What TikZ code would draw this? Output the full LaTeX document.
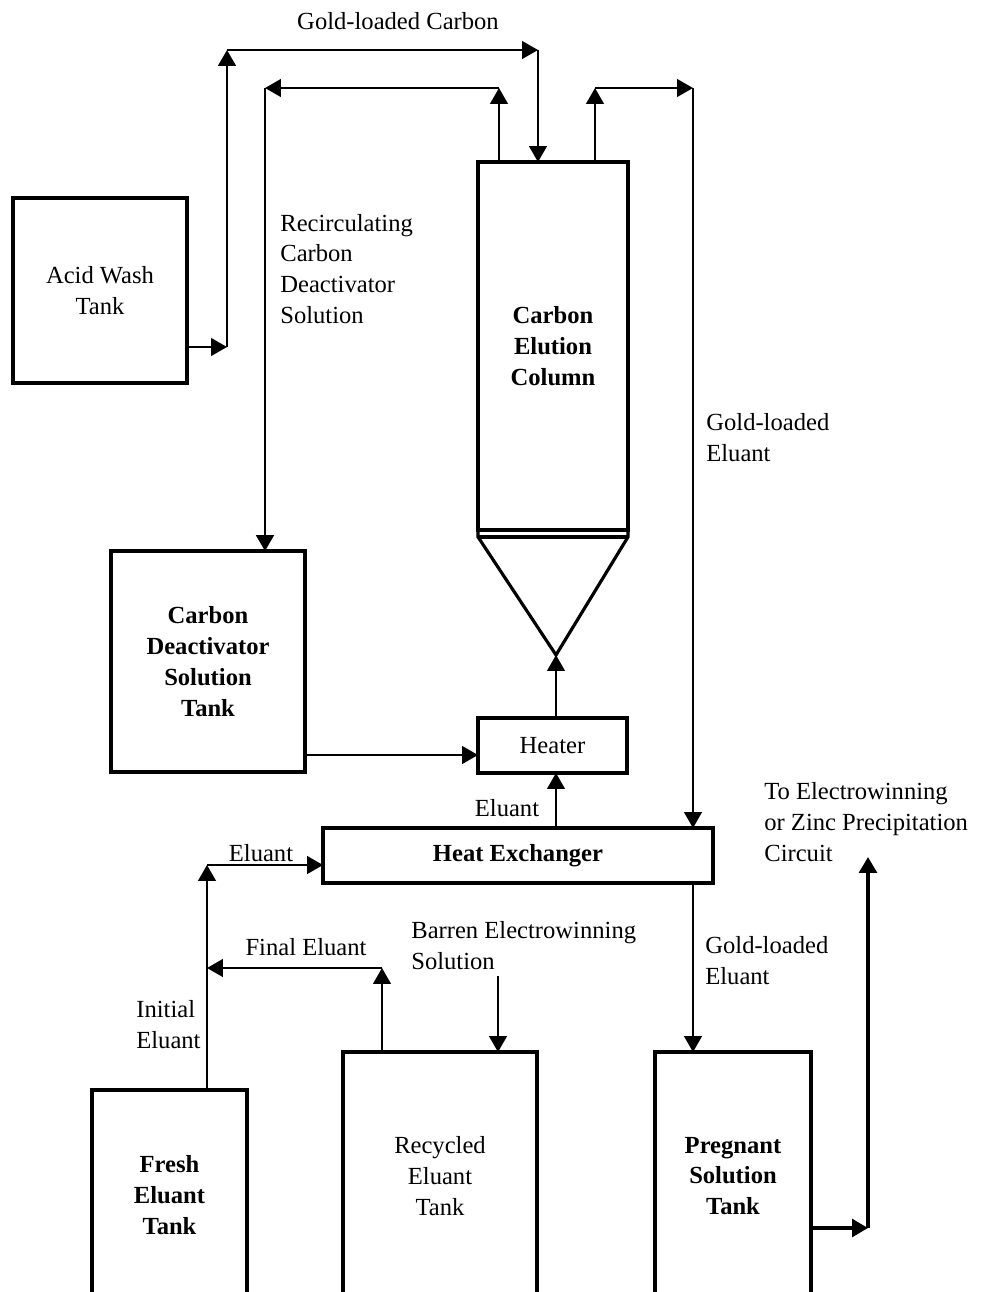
\documentclass[tikz,border=0pt]{standalone}
\usepackage{fontspec}
\setmainfont{Liberation Serif}
\usetikzlibrary{arrows.meta}
\tikzstyle{tank}=[draw, line width=1.8pt, outer sep=0pt, inner sep=0pt, align=center, font=\fontsize{14}{17.6}\selectfont]
\tikzstyle{boldtank}=[tank, font=\fontsize{14}{17.6}\selectfont\bfseries]
\tikzstyle{flow}=[-{Triangle[length=9pt,width=10pt]}, line width=1.2pt]
\tikzstyle{flowtext}=[inner sep=0pt, align=left, font=\fontsize{14}{17.6}\selectfont]

\begin{document}
\begin{tikzpicture}[x=0.02cm, y=-0.02cm]
\useasboundingbox (0,0) rectangle (981,1292);
\clip (0,0) rectangle (981,1292);

\node[tank, minimum width=3.48cm, minimum height=3.7cm] at (100, 290.5) (acid) {Acid Wash\\Tank};
\node[boldtank, minimum width=3.88cm, minimum height=4.42cm] at (208, 661.5) (deact) {Carbon\\Deactivator\\Solution\\Tank};
\node[boldtank, minimum width=3cm, minimum height=7.36cm] at (553, 346) (column) {Carbon\\Elution\\Column};
\node[tank, minimum width=2.98cm, minimum height=1.1cm] at (552.5, 745.5) (heater) {Heater};
\node[boldtank, minimum width=7.8cm, minimum height=1.1cm] at (518, 855.5) (hx) {Heat Exchanger};
\node[boldtank, minimum width=3.1cm, minimum height=4.2cm] at (169.5, 1195) (fresh) {Fresh\\Eluant\\Tank};
\node[tank, minimum width=3.88cm, minimum height=4.96cm] at (440, 1176) (recycled) {Recycled\\Eluant\\Tank};
\node[boldtank, minimum width=3.12cm, minimum height=4.96cm] at (733, 1176) (pregnant) {Pregnant\\Solution\\Tank};

% cone under the column
\coordinate (apex) at (556, 655);
\draw[line width=1.8pt] (column.south west) -- ++(0, 7) coordinate (bandl) -- (apex) -- (column.south east |- bandl) -- (column.south east);
\draw[line width=1.8pt] (bandl) -- (column.south east |- bandl);

% gold-loaded carbon
\coordinate (aw) at (227, 347);
\coordinate (awtop) at (227, 50);
\coordinate (gc) at (538, 50);
\draw[flow] (acid.east |- aw) -- (aw);
\draw[flow, line width=1.5pt] (aw) -- (awtop);
\draw[flow] (awtop) -- (gc);
\draw[flow] (gc) -- (gc |- column.north);

% recirculating solution
\coordinate (rc) at (499, 88);
\coordinate (rcl) at (265, 88);
\draw[flow] (column.north -| rc) -- (rc);
\draw[flow] (rc) -- (rcl);
\draw[flow, line width=1.5pt] (rcl) -- (rcl |- deact.north);

% gold-loaded eluant
\coordinate (ge) at (595, 88);
\coordinate (ger) at (693, 88);
\draw[flow] (column.north -| ge) -- (ge);
\draw[flow] (ge) -- (ger);
\draw[flow] (ger) -- (ger |- hx.north);
\draw[flow] (hx.south -| ger) -- (pregnant.north -| ger);

% heater
\coordinate (dh) at (305, 755);
\draw[flow] (heater.north -| apex) -- (apex);
\draw[flow] (hx.north -| apex) -- (heater.south -| apex);
\draw[flow] (deact.east |- dh) -- (heater.west |- dh);

% eluant feed
\coordinate (fe) at (207, 865);
\coordinate (fl) at (207, 968);
\coordinate (fr) at (382, 968);
\coordinate (bs) at (498, 976);
\draw[flow] (fresh.north -| fe) -- (fe);
\draw[flow] (fe) -- (hx.west |- fe);
\draw[flow] (recycled.north -| fr) -- (fr);
\draw[flow] (fr) -- (fl);
\draw[flow] (bs) -- (recycled.north -| bs);

% to electrowinning
\coordinate (pe) at (868, 1228);
\coordinate (pt) at (868, 857);
\draw[flow, line width=2pt] (pregnant.east |- pe) -- (pe);
\draw[flow, line width=2pt] (pe) -- (pt);

\node[flowtext] at (398, 21) (lgc) {Gold-loaded Carbon};
\node[flowtext, anchor=west] at (280, 269) (lrc) {Recirculating\\Carbon\\Deactivator\\Solution};
\node[flowtext, anchor=west] at (706, 438) (lge1) {Gold-loaded\\Eluant};
\node[flowtext] at (507, 808) (lel1) {Eluant};
\node[flowtext] at (261, 853) (lel2) {Eluant};
\node[flowtext] at (306, 947) (lfe) {Final Eluant};
\node[flowtext, anchor=west] at (136, 1025) (lie) {Initial\\Eluant};
\node[flowtext, anchor=west] at (411, 946) (lbs) {Barren Electrowinning\\Solution};
\node[flowtext, anchor=west] at (705, 961) (lge2) {Gold-loaded\\Eluant};
\node[flowtext, anchor=west] at (764, 822) (lew) {To Electrowinning\\or Zinc Precipitation\\Circuit};
\end{tikzpicture}
\end{document}
